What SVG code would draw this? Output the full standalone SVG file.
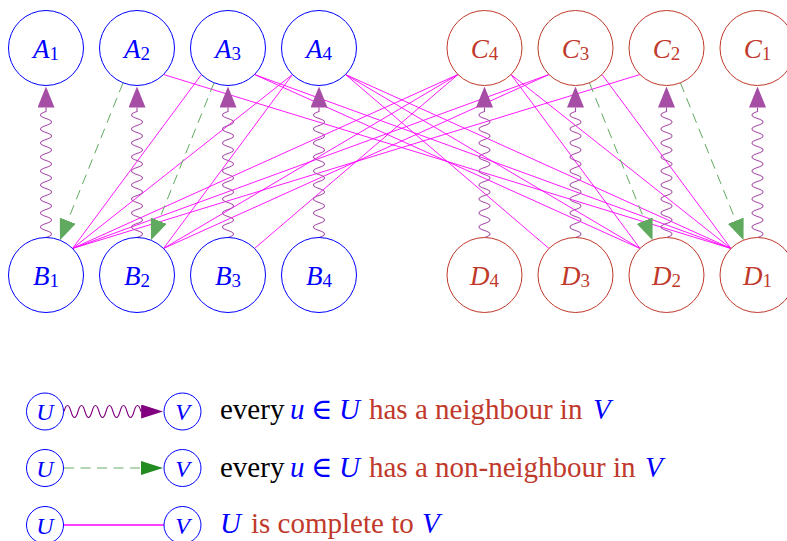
<svg xmlns="http://www.w3.org/2000/svg" width="787" height="541" viewBox="0 0 787 541">
<style>
.bg{fill:#ffffff}
.nb{fill:#ffffff;stroke:#0000ff;stroke-width:1}
.nr{fill:#ffffff;stroke:#c0392b;stroke-width:1}
.lb{font-family:"Liberation Serif","DejaVu Serif",serif;font-size:27px;text-anchor:middle}
.sub{font-size:19px;font-style:normal}
.it{font-style:italic}
.blue{fill:#0000ff}
.red{fill:#c0392b}
.blk{fill:#000000}
.cmp{stroke:#ff00ff;stroke-width:0.9;fill:none}
.wav{stroke:#a64da6;stroke-width:1.1;fill:none;marker-end:url(#ap)}
.dsh{stroke:#60aa60;stroke-width:1;fill:none;stroke-dasharray:10 6.5;marker-end:url(#ag)}
.lt{font-family:"Liberation Serif","DejaVu Serif",serif;font-size:29px}
.ln{font-family:"Liberation Serif","DejaVu Serif",serif;font-size:24px;font-style:italic;text-anchor:middle;fill:#0000ff}
</style>
<defs>
<marker id="ap" viewBox="0 0 21 17" markerUnits="userSpaceOnUse" markerWidth="21" markerHeight="17" refX="0" refY="8.5" orient="auto"><path d="M0,0 L21,8.5 L0,17 z" fill="#a64da6"/></marker>
<marker id="ag" viewBox="0 0 21 17" markerUnits="userSpaceOnUse" markerWidth="21" markerHeight="17" refX="0" refY="8.5" orient="auto"><path d="M0,0 L21,8.5 L0,17 z" fill="#60aa60"/></marker>
<marker id="lp" viewBox="0 0 22 14" markerUnits="userSpaceOnUse" markerWidth="22" markerHeight="14" refX="0" refY="7" orient="auto"><path d="M0,0 L22,7 L0,14 z" fill="#800080"/></marker>
<marker id="lg" viewBox="0 0 22 14" markerUnits="userSpaceOnUse" markerWidth="22" markerHeight="14" refX="0" refY="7" orient="auto"><path d="M0,0 L22,7 L0,14 z" fill="#228b22"/></marker>
</defs>
<rect class="bg" x="0" y="0" width="787" height="541"/>
<g id="connectors">
<g id="complete">
<path class="cmp" d="M72.52,248.48 L201.48,74.52"/>
<path class="cmp" d="M72.52,248.48 L292.48,74.52"/>
<path class="cmp" d="M163.52,248.48 L292.48,74.52"/>
<path class="cmp" d="M72.52,248.48 L639.98,74.52"/>
<path class="cmp" d="M72.52,248.48 L548.98,74.52"/>
<path class="cmp" d="M72.52,248.48 L457.98,74.52"/>
<path class="cmp" d="M163.52,248.48 L548.98,74.52"/>
<path class="cmp" d="M163.52,248.48 L457.98,74.52"/>
<path class="cmp" d="M254.52,248.48 L457.98,74.52"/>
<path class="cmp" d="M730.98,248.48 L602.02,74.52"/>
<path class="cmp" d="M730.98,248.48 L511.02,74.52"/>
<path class="cmp" d="M639.98,248.48 L511.02,74.52"/>
<path class="cmp" d="M163.52,74.52 L730.98,248.48"/>
<path class="cmp" d="M254.52,74.52 L730.98,248.48"/>
<path class="cmp" d="M254.52,74.52 L639.98,248.48"/>
<path class="cmp" d="M345.52,74.52 L730.98,248.48"/>
<path class="cmp" d="M345.52,74.52 L639.98,248.48"/>
<path class="cmp" d="M345.52,74.52 L548.98,248.48"/>
</g>
<g id="neighbour">
<path class="wav" d="M46,237.5 q 11,-3.5 0,-7 t 0,-7 t 0,-7 t 0,-7 t 0,-7 t 0,-7 t 0,-7 t 0,-7 t 0,-7 t 0,-7 t 0,-7 t 0,-7 t 0,-7 t 0,-7 t 0,-7 t 0,-7 t 0,-7 t 0,-7 v -4"/>
<path class="wav" d="M137,237.5 q 11,-3.5 0,-7 t 0,-7 t 0,-7 t 0,-7 t 0,-7 t 0,-7 t 0,-7 t 0,-7 t 0,-7 t 0,-7 t 0,-7 t 0,-7 t 0,-7 t 0,-7 t 0,-7 t 0,-7 t 0,-7 t 0,-7 v -4"/>
<path class="wav" d="M228,237.5 q 11,-3.5 0,-7 t 0,-7 t 0,-7 t 0,-7 t 0,-7 t 0,-7 t 0,-7 t 0,-7 t 0,-7 t 0,-7 t 0,-7 t 0,-7 t 0,-7 t 0,-7 t 0,-7 t 0,-7 t 0,-7 t 0,-7 v -4"/>
<path class="wav" d="M319,237.5 q 11,-3.5 0,-7 t 0,-7 t 0,-7 t 0,-7 t 0,-7 t 0,-7 t 0,-7 t 0,-7 t 0,-7 t 0,-7 t 0,-7 t 0,-7 t 0,-7 t 0,-7 t 0,-7 t 0,-7 t 0,-7 t 0,-7 v -4"/>
<path class="wav" d="M484.5,237.5 q 11,-3.5 0,-7 t 0,-7 t 0,-7 t 0,-7 t 0,-7 t 0,-7 t 0,-7 t 0,-7 t 0,-7 t 0,-7 t 0,-7 t 0,-7 t 0,-7 t 0,-7 t 0,-7 t 0,-7 t 0,-7 t 0,-7 v -4"/>
<path class="wav" d="M575.5,237.5 q 11,-3.5 0,-7 t 0,-7 t 0,-7 t 0,-7 t 0,-7 t 0,-7 t 0,-7 t 0,-7 t 0,-7 t 0,-7 t 0,-7 t 0,-7 t 0,-7 t 0,-7 t 0,-7 t 0,-7 t 0,-7 t 0,-7 v -4"/>
<path class="wav" d="M666.5,237.5 q 11,-3.5 0,-7 t 0,-7 t 0,-7 t 0,-7 t 0,-7 t 0,-7 t 0,-7 t 0,-7 t 0,-7 t 0,-7 t 0,-7 t 0,-7 t 0,-7 t 0,-7 t 0,-7 t 0,-7 t 0,-7 t 0,-7 v -4"/>
<path class="wav" d="M757.5,237.5 q 11,-3.5 0,-7 t 0,-7 t 0,-7 t 0,-7 t 0,-7 t 0,-7 t 0,-7 t 0,-7 t 0,-7 t 0,-7 t 0,-7 t 0,-7 t 0,-7 t 0,-7 t 0,-7 t 0,-7 t 0,-7 t 0,-7 v -4"/>
</g>
<g id="nonneighbour">
<path class="dsh" d="M123.05,82.81 L67.76,220.7"/>
<path class="dsh" d="M214.05,82.81 L158.76,220.7"/>
<path class="dsh" d="M589.45,82.81 L644.74,220.7"/>
<path class="dsh" d="M680.45,82.81 L735.74,220.7"/>
</g>
</g>
<g id="A1"><circle class="nb" cx="46" cy="48" r="37.5"/><text class="lb blue" x="46" y="58"><tspan class="it">A</tspan><tspan class="sub" dy="2">1</tspan></text></g>
<g id="A2"><circle class="nb" cx="137" cy="48" r="37.5"/><text class="lb blue" x="137" y="58"><tspan class="it">A</tspan><tspan class="sub" dy="2">2</tspan></text></g>
<g id="A3"><circle class="nb" cx="228" cy="48" r="37.5"/><text class="lb blue" x="228" y="58"><tspan class="it">A</tspan><tspan class="sub" dy="2">3</tspan></text></g>
<g id="A4"><circle class="nb" cx="319" cy="48" r="37.5"/><text class="lb blue" x="319" y="58"><tspan class="it">A</tspan><tspan class="sub" dy="2">4</tspan></text></g>
<g id="B1"><circle class="nb" cx="46" cy="275" r="37.5"/><text class="lb blue" x="46" y="285"><tspan class="it">B</tspan><tspan class="sub" dy="2">1</tspan></text></g>
<g id="B2"><circle class="nb" cx="137" cy="275" r="37.5"/><text class="lb blue" x="137" y="285"><tspan class="it">B</tspan><tspan class="sub" dy="2">2</tspan></text></g>
<g id="B3"><circle class="nb" cx="228" cy="275" r="37.5"/><text class="lb blue" x="228" y="285"><tspan class="it">B</tspan><tspan class="sub" dy="2">3</tspan></text></g>
<g id="B4"><circle class="nb" cx="319" cy="275" r="37.5"/><text class="lb blue" x="319" y="285"><tspan class="it">B</tspan><tspan class="sub" dy="2">4</tspan></text></g>
<g id="C4"><circle class="nr" cx="484.5" cy="48" r="37.5"/><text class="lb red" x="484.5" y="58"><tspan class="it">C</tspan><tspan class="sub" dy="2">4</tspan></text></g>
<g id="C3"><circle class="nr" cx="575.5" cy="48" r="37.5"/><text class="lb red" x="575.5" y="58"><tspan class="it">C</tspan><tspan class="sub" dy="2">3</tspan></text></g>
<g id="C2"><circle class="nr" cx="666.5" cy="48" r="37.5"/><text class="lb red" x="666.5" y="58"><tspan class="it">C</tspan><tspan class="sub" dy="2">2</tspan></text></g>
<g id="C1"><circle class="nr" cx="757.5" cy="48" r="37.5"/><text class="lb red" x="757.5" y="58"><tspan class="it">C</tspan><tspan class="sub" dy="2">1</tspan></text></g>
<g id="D4"><circle class="nr" cx="484.5" cy="275" r="37.5"/><text class="lb red" x="484.5" y="285"><tspan class="it">D</tspan><tspan class="sub" dy="2">4</tspan></text></g>
<g id="D3"><circle class="nr" cx="575.5" cy="275" r="37.5"/><text class="lb red" x="575.5" y="285"><tspan class="it">D</tspan><tspan class="sub" dy="2">3</tspan></text></g>
<g id="D2"><circle class="nr" cx="666.5" cy="275" r="37.5"/><text class="lb red" x="666.5" y="285"><tspan class="it">D</tspan><tspan class="sub" dy="2">2</tspan></text></g>
<g id="D1"><circle class="nr" cx="757.5" cy="275" r="37.5"/><text class="lb red" x="757.5" y="285"><tspan class="it">D</tspan><tspan class="sub" dy="2">1</tspan></text></g>
<g id="legend">
<g id="legend-connectors">
<path d="M64,411.5 q 3.5,-12 7,0 t 7,0 t 7,0 t 7,0 t 7,0 t 7,0 t 7,0 t 7,0 t 7,0 t 7,0 t 7,0 h 0.1" fill="none" stroke="#800080" stroke-width="1.1" marker-end="url(#lp)"/>
<path d="M64,468 L141,468" fill="none" stroke="#228b22" stroke-opacity="0.7" stroke-width="1.2" stroke-dasharray="10 6.5" marker-end="url(#lg)"/>
<path d="M64,525 L164,525" fill="none" stroke="#ff00ff" stroke-width="1.3"/>
</g>
<g id="leg-U1"><circle class="nb" cx="45" cy="411.5" r="18.5"/><text class="ln" x="45" y="420">U</text></g>
<g id="leg-V1"><circle class="nb" cx="182.5" cy="411.5" r="18.5"/><text class="ln" x="182.5" y="420">V</text></g>
<g id="leg-U2"><circle class="nb" cx="45" cy="468" r="18.5"/><text class="ln" x="45" y="476.5">U</text></g>
<g id="leg-V2"><circle class="nb" cx="182.5" cy="468" r="18.5"/><text class="ln" x="182.5" y="476.5">V</text></g>
<g id="leg-U3"><circle class="nb" cx="45" cy="525" r="18.5"/><text class="ln" x="45" y="533.5">U</text></g>
<g id="leg-V3"><circle class="nb" cx="182.5" cy="525" r="18.5"/><text class="ln" x="182.5" y="533.5">V</text></g>
<g class="lt">
<text x="220" y="419" class="blk">every</text>
<text x="290" y="419" class="blue it">u</text>
<text x="311" y="419" class="blue">∈</text>
<text x="339" y="419" class="blue it">U</text>
<text x="369" y="419" class="red">has a neighbour in</text>
<text x="593" y="419" class="blue it">V</text>
<text x="220" y="477" class="blk">every</text>
<text x="290" y="477" class="blue it">u</text>
<text x="311" y="477" class="blue">∈</text>
<text x="339" y="477" class="blue it">U</text>
<text x="369" y="477" class="red">has a non-neighbour in</text>
<text x="645" y="477" class="blue it">V</text>
<text x="220" y="533" class="blue it">U</text>
<text x="251" y="533" class="red">is complete to</text>
<text x="422" y="533" class="blue it">V</text>
</g>
</g>
</svg>
